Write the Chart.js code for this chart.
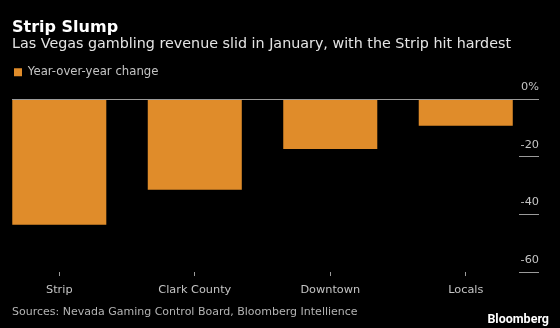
<!DOCTYPE html>
<html>
<head>
<meta charset="utf-8">
<script src="https://cdn.jsdelivr.net/npm/chart.js@4/dist/chart.umd.min.js"></script>
<style>
    html, body { margin: 0; padding: 0; background: #000; }
    #wrap { position: relative; width: 560px; height: 328px; overflow: hidden; }
    #chart { position: absolute; left: 0; top: 0; }
    .source { position: absolute; left: 12px; top: 305px; font: 11px/13px "DejaVu Sans", sans-serif; color: #b4b4b4; }
    .brand { position: absolute; right: 11px; top: 311px; font: bold 12.5px Roboto, sans-serif; color: #fff; }
</style>
</head>
<body>
<div id="wrap">
    <canvas id="chart" width="560" height="328"></canvas>
    <div class="source">Sources: Nevada Gaming Control Board, Bloomberg Intellience</div>
    <div class="brand">Bloomberg</div>
</div>
<script>
// Chart data
const categories = ['Strip', 'Clark County', 'Downtown', 'Locals'];
const yoyChange = [-43.6, -31.4, -17.2, -9.2];
const yTicks = [0, -20, -40, -60];
const seriesLabel = 'Year-over-year change';

const colors = {
    bar: '#e08c2a',
    axis: '#9a9a9a',
    label: '#c4c4c4',
    title: '#ffffff',
    subtitle: '#e4e4e4'
};

// extra room under the legend
const legendSpacer = {
    id: 'legendSpacer',
    beforeInit(chart) {
        const fit = chart.legend.fit;
        chart.legend.fit = function() {
            fit.call(this);
            this.height += 11.3;
        };
    }
};

Chart.defaults.font.family = '"DejaVu Sans", sans-serif';
Chart.defaults.color = colors.label;

new Chart(document.getElementById('chart'), {
    type: 'bar',
    data: {
        datasets: [{
            label: seriesLabel,
            data: yoyChange.map((v, i) => ({ x: i, y: v })),
            backgroundColor: colors.bar,
            borderWidth: 0,
            barPercentage: 0.694,
            categoryPercentage: 1
        }]
    },
    options: {
        responsive: false,
        animation: false,
        layout: {
            // y labels sit over their tick marks, so the axis box runs past the edge
            padding: { top: 0, left: 12, right: -19, bottom: 24.4 }
        },
        plugins: {
            title: {
                display: true,
                text: 'Strip Slump',
                align: 'start',
                color: colors.title,
                font: { size: 16, weight: 'bold', lineHeight: 1 },
                padding: { top: 20, bottom: 0 }
            },
            subtitle: {
                display: true,
                text: 'Las Vegas gambling revenue slid in January, with the Strip hit hardest',
                align: 'start',
                color: colors.subtitle,
                font: { size: 14.3, lineHeight: 1 },
                padding: { top: 1.5, bottom: 12.6 }
            },
            legend: {
                display: true,
                position: 'top',
                align: 'start',
                labels: {
                    boxWidth: 8,
                    boxHeight: 8,
                    padding: 2,
                    color: colors.label,
                    font: { size: 11.7 }
                }
            },
            tooltip: { enabled: false }
        },
        scales: {
            x: {
                type: 'linear',
                min: -0.349,
                max: 3.393,
                offset: false,
                afterBuildTicks: scale => {
                    scale.ticks = categories.map((c, i) => ({ value: i }));
                },
                ticks: {
                    callback: value => categories[value],
                    color: colors.label,
                    font: { size: 11.3 },
                    padding: 7,
                    maxRotation: 0,
                    autoSkip: false
                },
                grid: {
                    offset: false,
                    drawOnChartArea: false,
                    tickLength: 4,
                    tickColor: colors.axis
                },
                border: { display: false }
            },
            y: {
                position: 'right',
                min: -60,
                max: 0,
                afterBuildTicks: scale => {
                    scale.ticks = yTicks.map(v => ({ value: v }));
                },
                ticks: {
                    mirror: true,
                    padding: 20,
                    labelOffset: -12,
                    color: colors.label,
                    font: { size: 11.3 },
                    callback: value => value === 0 ? '0%' : value
                },
                grid: {
                    color: ctx => ctx.tick && ctx.tick.value === 0 ? colors.axis : 'transparent',
                    tickColor: colors.axis,
                    tickLength: 20,
                    lineWidth: 1
                },
                border: { display: false }
            }
        }
    },
    plugins: [legendSpacer]
});
</script>
</body>
</html>
